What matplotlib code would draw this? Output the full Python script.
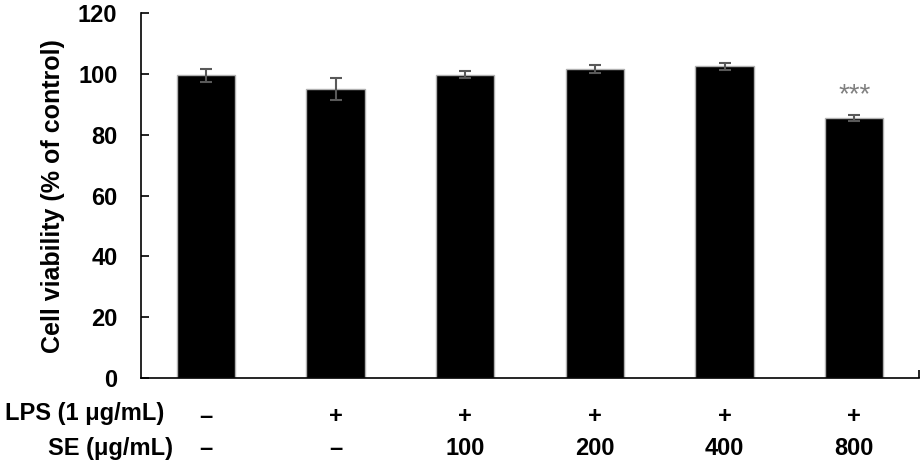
import numpy as np
import matplotlib.pyplot as plt

# Data
groups = ["ctrl", "LPS", "SE100", "SE200", "SE400", "SE800"]
viability = [99.6, 95.0, 99.8, 101.7, 102.5, 85.6]
errors = [2.1, 3.6, 1.2, 1.4, 1.1, 1.1]
lps_row = ["\u2013", "+", "+", "+", "+", "+"]
se_row = ["\u2013", "\u2013", "100", "200", "400", "800"]
signif = ["", "", "", "", "", "***"]

plt.rcParams['font.family'] = ['Liberation Sans', 'DejaVu Sans']

fig = plt.figure(figsize=(9.23, 4.73), dpi=100)
ax = fig.add_axes([0.1528, 0.2008, 0.8429, 0.7711])

x = np.arange(len(groups))
ax.bar(x, viability, width=0.45, color="black", edgecolor="#b0b0b0", linewidth=1.0, zorder=2)
ax.errorbar(x, viability, yerr=errors, fmt="none", ecolor="#595959",
            elinewidth=1.5, capsize=4, capthick=1.5, zorder=3)

for xi, v, e, s in zip(x, viability, errors, signif):
    if s:
        ax.text(xi, v + e + 6.5, s, ha="center", va="center", color="#808080", fontsize=20)

ax.set_xlim(-0.5, len(groups) - 0.5)
ax.set_ylim(0, 120)
ax.set_yticks(np.arange(0, 121, 20))
ax.tick_params(axis="y", direction="in", length=6, width=1.2, labelsize=17, pad=17)
for lab in ax.get_yticklabels():
    lab.set_fontweight("bold")
ax.set_xticks([len(groups) - 0.5])
ax.set_xticklabels([])
ax.tick_params(axis="x", direction="in", length=6, width=1.2)

ax.spines["top"].set_visible(False)
ax.spines["right"].set_visible(False)
ax.spines["left"].set_linewidth(1.2)
ax.spines["bottom"].set_linewidth(1.2)

ax.set_ylabel("Cell viability (% of control)", fontsize=18, fontweight="bold", labelpad=9)

# Treatment rows below the axis
trans = ax.get_xaxis_transform()
for xi, a, b in zip(x, lps_row, se_row):
    ax.text(xi, -0.105, a, transform=trans, ha="center", va="center",
            fontsize=17, fontweight="bold")
    ax.text(xi, -0.192, b, transform=trans, ha="center", va="center",
            fontsize=17, fontweight="bold")
fig.text(0.005, 1 - 413 / 473, "LPS (1 \u03bcg/mL)", ha="left", va="center",
         fontsize=17, fontweight="bold")
fig.text(0.187, 1 - 448 / 473, "SE (\u03bcg/mL)", ha="right", va="center",
         fontsize=17, fontweight="bold")

fig.savefig("out.png", dpi=100)
